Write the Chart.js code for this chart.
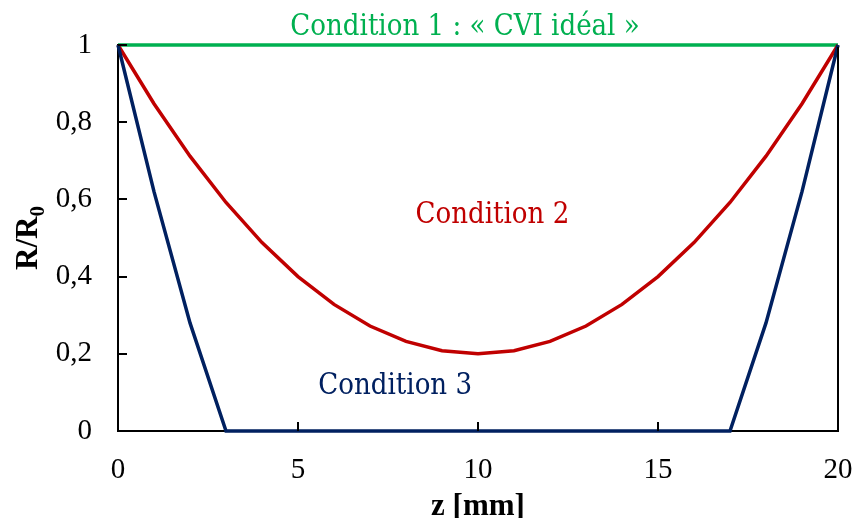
<!DOCTYPE html>
<html>
<head>
<meta charset="utf-8">
<script src="https://cdn.jsdelivr.net/npm/chart.js@4/dist/chart.umd.min.js"></script>
<style>
  html, body { margin: 0; padding: 0; background: #fff; }
  #wrap { width: 856px; height: 518px; }
</style>
</head>
<body>
<div id="wrap"><canvas id="chart" width="856" height="518"></canvas></div>
<script>
"use strict";

// z positions [mm]
const zValues = [0, 1, 2, 3, 4, 5, 6, 7, 8, 9, 10, 11, 12, 13, 14, 15, 16, 17, 18, 19, 20];

// R/R0 for each condition
const cond1 = [1, 1, 1, 1, 1, 1, 1, 1, 1, 1, 1, 1, 1, 1, 1, 1, 1, 1, 1, 1, 1];
const cond2 = [1, 0.848, 0.712, 0.592, 0.488, 0.4, 0.328, 0.272, 0.232, 0.208, 0.2,
  0.208, 0.232, 0.272, 0.328, 0.4, 0.488, 0.592, 0.712, 0.848, 1];
const cond3 = [1, 0.62, 0.28, 0, 0, 0, 0, 0, 0, 0, 0, 0, 0, 0, 0, 0, 0, 0, 0.28, 0.62, 1];

const xTicks = [0, 5, 10, 15, 20];
const yTicks = [0, 0.2, 0.4, 0.6, 0.8, 1];

const labels = ["Condition 1 : \u00ab CVI id\u00e9al \u00bb", "Condition 2", "Condition 3"];
const colors = ["#00b050", "#c00000", "#002060"];

function toPoints(arr) {
  return zValues.map((z, i) => ({ x: z, y: arr[i] }));
}

function fmt(v) {
  return String(Math.round(v * 10) / 10).replace(".", ",");
}

const titleFont = "bold 31px 'Liberation Serif', 'Times New Roman', serif";
const subFont = "bold 21px 'Liberation Serif', 'Times New Roman', serif";
const noteFont = "29px 'DejaVu Serif Condensed', 'DejaVu Serif', serif";

// extra drawing: inside tick marks, right border, notes, axis titles
const decorations = {
  id: "decorations",
  afterDraw(chart) {
    const ctx = chart.ctx;
    const xs = chart.scales.x;
    const ys = chart.scales.y;
    const area = chart.chartArea;
    ctx.save();
    ctx.strokeStyle = "#000";
    ctx.lineWidth = 2;
    ctx.beginPath();
    yTicks.forEach((v) => {
      const py = Math.round(ys.getPixelForValue(v));
      ctx.moveTo(area.left, py);
      ctx.lineTo(area.left + 9, py);
    });
    xTicks.forEach((v) => {
      const px = Math.round(xs.getPixelForValue(v));
      ctx.moveTo(px, area.bottom);
      ctx.lineTo(px, area.bottom - 9);
    });
    ctx.moveTo(area.right, area.top + 2);
    ctx.lineTo(area.right, area.bottom);
    ctx.stroke();

    // condition notes
    ctx.font = noteFont;
    ctx.textAlign = "center";
    ctx.textBaseline = "alphabetic";
    const notePos = [[9.64, 1.025], [10.4, 0.54], [7.7, 0.095]];
    labels.forEach((t, i) => {
      ctx.fillStyle = colors[i];
      ctx.fillText(t, xs.getPixelForValue(notePos[i][0]), ys.getPixelForValue(notePos[i][1]));
    });

    // axis titles
    ctx.fillStyle = "#000";
    ctx.font = titleFont;
    ctx.fillText("z [mm]", (area.left + area.right) / 2, 515);

    ctx.translate(37, (area.top + area.bottom) / 2);
    ctx.rotate(-Math.PI / 2);
    const main = "R/R";
    ctx.font = titleFont;
    const wMain = ctx.measureText(main).width;
    ctx.font = subFont;
    const wSub = ctx.measureText("0").width;
    const start = -(wMain + wSub) / 2;
    ctx.textAlign = "left";
    ctx.font = titleFont;
    ctx.fillText(main, start, 0);
    ctx.font = subFont;
    ctx.fillText("0", start + wMain, 7);
    ctx.restore();
  }
};

const ctx = document.getElementById("chart");
const chart = new Chart(ctx, {
  type: "line",
  data: {
    datasets: [
      { label: labels[2], data: toPoints(cond3), borderColor: colors[2] },
      { label: labels[1], data: toPoints(cond2), borderColor: colors[1] },
      { label: labels[0], data: toPoints(cond1), borderColor: colors[0] },
    ],
  },
  options: {
    responsive: false,
    animation: false,
    devicePixelRatio: 1,
    layout: { padding: { top: 45, right: 18, left: 0, bottom: 0 } },
    elements: {
      line: { borderWidth: 3.5, tension: 0, fill: false },
      point: { radius: 0 },
    },
    datasets: { line: { clip: 6 } },
    plugins: {
      legend: { display: false },
      tooltip: { enabled: false },
    },
    scales: {
      x: {
        type: "linear",
        min: 0,
        max: 20,
        afterBuildTicks: (s) => { s.ticks = xTicks.map((v) => ({ value: v })); },
        afterFit: (s) => {
          s.height = 87;
          s.paddingLeft = 0;
          s.paddingRight = 0;
        },
        grid: { display: false },
        border: { display: true, color: "#000", width: 2 },
        ticks: {
          color: "#000",
          padding: 14,
          maxRotation: 0,
          font: { family: "'Liberation Serif', 'Times New Roman', serif", size: 29 },
          callback: (v) => fmt(v),
        },
      },
      y: {
        min: 0,
        max: 1,
        afterBuildTicks: (s) => { s.ticks = yTicks.map((v) => ({ value: v })); },
        afterFit: (s) => {
          s.width = 118;
          s.paddingTop = 0;
          s.paddingBottom = 0;
        },
        grid: { display: false },
        border: { display: true, color: "#000", width: 2 },
        ticks: {
          color: "#000",
          padding: 18,
          font: { family: "'Liberation Serif', 'Times New Roman', serif", size: 29 },
          callback: (v) => fmt(v),
        },
      },
    },
  },
  plugins: [decorations],
});
</script>
</body>
</html>
